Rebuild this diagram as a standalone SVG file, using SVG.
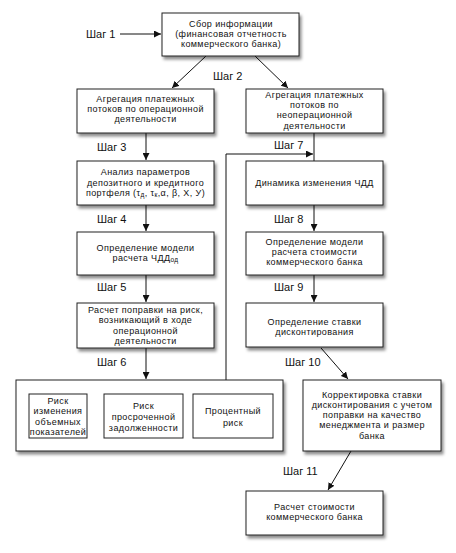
<svg xmlns="http://www.w3.org/2000/svg" width="456" height="553" viewBox="0 0 456 553">
<defs>
<filter id="sh" x="-10%" y="-10%" width="130%" height="140%">
<feDropShadow dx="2" dy="3" stdDeviation="1.5" flood-color="#000" flood-opacity="0.45"/>
</filter>
<marker id="ah" viewBox="0 0 10 10" refX="10" refY="5" markerWidth="7" markerHeight="7" markerUnits="userSpaceOnUse" orient="auto">
<path d="M0,0 L10,5 L0,10 z" fill="#111"/>
</marker>
<style>
.box{fill:#fff;stroke:#222;stroke-width:1;filter:url(#sh)}
.ibox{fill:#fff;stroke:#222;stroke-width:1}
.t{font-family:"Liberation Sans",Arial,sans-serif;font-size:9px;letter-spacing:0.4px;fill:#111;text-anchor:middle}
.s{font-family:"Liberation Sans",Arial,sans-serif;font-size:11px;fill:#111}
.c{fill:none;stroke:#111;stroke-width:1}
.a{marker-end:url(#ah)}
</style>
</defs>
<rect width="456" height="553" fill="#fff"/>
<g id="connectors">
<line class="c a" x1="120" y1="34" x2="161" y2="34"/>
<line class="c a" x1="206" y1="56" x2="172" y2="88"/>
<line class="c a" x1="255" y1="56" x2="288" y2="88"/>
<line class="c a" x1="146" y1="133" x2="146" y2="160"/>
<line class="c" x1="314" y1="133" x2="314" y2="161"/>
<polyline class="c a" points="226,380 226,154 313,154"/>
<line class="c a" x1="146" y1="205" x2="146" y2="231"/>
<line class="c a" x1="314" y1="205" x2="314" y2="231"/>
<line class="c a" x1="146" y1="275" x2="146" y2="302"/>
<line class="c a" x1="314" y1="275" x2="314" y2="302"/>
<line class="c a" x1="146" y1="348" x2="146" y2="379"/>
<line class="c a" x1="321" y1="348" x2="348" y2="379"/>
<line class="c a" x1="351" y1="451" x2="328" y2="490"/>
</g>
<g id="labels">
<text class="s" x="86" y="38">Шаг 1</text>
<text class="s" x="213" y="80">Шаг 2</text>
<text class="s" x="97" y="151">Шаг 3</text>
<text class="s" x="274" y="149">Шаг 7</text>
<text class="s" x="97" y="223">Шаг 4</text>
<text class="s" x="274" y="223">Шаг 8</text>
<text class="s" x="97" y="291">Шаг 5</text>
<text class="s" x="274" y="291">Шаг 9</text>
<text class="s" x="97" y="366">Шаг 6</text>
<text class="s" x="285" y="366">Шаг 10</text>
<text class="s" x="283" y="475">Шаг 11</text>
</g>
<g id="n1">
<rect class="box" x="162" y="13" width="137" height="43"/>
<text class="t" x="231" y="27">Сбор информации</text>
<text class="t" x="231" y="37.2">(финансовая отчетность</text>
<text class="t" x="231" y="47.4">коммерческого банка)</text>
</g>
<g id="n2">
<rect class="box" x="77" y="89" width="137" height="44"/>
<text class="t" x="145.5" y="102">Агрегация платежных</text>
<text class="t" x="145.5" y="112.2">потоков по операционной</text>
<text class="t" x="145.5" y="122.4">деятельности</text>
</g>
<g id="n3">
<rect class="box" x="246" y="89" width="137" height="44"/>
<text class="t" x="314.5" y="97.9">Агрегация платежных</text>
<text class="t" x="314.5" y="108.1">потоков по</text>
<text class="t" x="314.5" y="118.3">неоперационной</text>
<text class="t" x="314.5" y="128.5">деятельности</text>
</g>
<g id="n4">
<rect class="box" x="77" y="161" width="137" height="44"/>
<text class="t" x="145.5" y="175.3">Анализ параметров</text>
<text class="t" x="145.5" y="185.5">депозитного и кредитного</text>
<text class="t" x="145.5" y="195.7">портфеля (τ<tspan font-size="6.5" dy="1">д</tspan><tspan dy="-1">, τ</tspan><tspan font-size="6.5" dy="1">к</tspan><tspan dy="-1">,α, β, X, У)</tspan></text>
</g>
<g id="n5">
<rect class="box" x="246" y="161" width="137" height="44"/>
<text class="t" x="314.5" y="186.2">Динамика изменения ЧДД</text>
</g>
<g id="n6">
<rect class="box" x="77" y="232" width="137" height="43"/>
<text class="t" x="145.5" y="251.1">Определение модели</text>
<text class="t" x="145.5" y="261.3">расчета ЧДД<tspan font-size="6.5" dy="1">од</tspan></text>
</g>
<g id="n7">
<rect class="box" x="246" y="232" width="137" height="43"/>
<text class="t" x="314.5" y="245">Определение модели</text>
<text class="t" x="314.5" y="255.2">расчета стоимости</text>
<text class="t" x="314.5" y="265.4">коммерческого банка</text>
</g>
<g id="n8">
<rect class="box" x="77" y="303" width="137" height="45"/>
<text class="t" x="145.5" y="313.2">Расчет поправки на риск,</text>
<text class="t" x="145.5" y="323.4">возникающий в ходе</text>
<text class="t" x="145.5" y="333.6">операционной</text>
<text class="t" x="145.5" y="343.8">деятельности</text>
</g>
<g id="n9">
<rect class="box" x="246" y="303" width="137" height="44"/>
<text class="t" x="314.5" y="324.6">Определение ставки</text>
<text class="t" x="314.5" y="334.8">дисконтирования</text>
</g>
<g id="n10">
<rect class="box" x="16" y="380" width="267" height="71"/>
<rect class="ibox" x="29" y="394" width="58" height="44"/>
<text class="t" x="58" y="403.5">Риск</text>
<text class="t" x="58" y="414">изменения</text>
<text class="t" x="58" y="424.5">объемных</text>
<text class="t" x="58" y="435">показателей</text>
<rect class="ibox" x="104" y="394" width="79" height="44"/>
<text class="t" x="143.5" y="409.2">Риск</text>
<text class="t" x="143.5" y="420">просроченной</text>
<text class="t" x="143.5" y="430.5">задолженности</text>
<rect class="ibox" x="193" y="394" width="80" height="44"/>
<text class="t" x="233" y="414.2">Процентный</text>
<text class="t" x="233" y="426.2">риск</text>
</g>
<g id="n11">
<rect class="box" x="303" y="380" width="138" height="71"/>
<text class="t" x="372" y="397.8">Корректировка ставки</text>
<text class="t" x="372" y="408">дисконтирования с учетом</text>
<text class="t" x="372" y="418.2">поправки на качество</text>
<text class="t" x="372" y="428.4">менеджмента и размер</text>
<text class="t" x="372" y="438.6">банка</text>
</g>
<g id="n12">
<rect class="box" x="246" y="491" width="137" height="44"/>
<text class="t" x="314.5" y="509.6">Расчет стоимости</text>
<text class="t" x="314.5" y="519.8">коммерческого банка</text>
</g>
</svg>
